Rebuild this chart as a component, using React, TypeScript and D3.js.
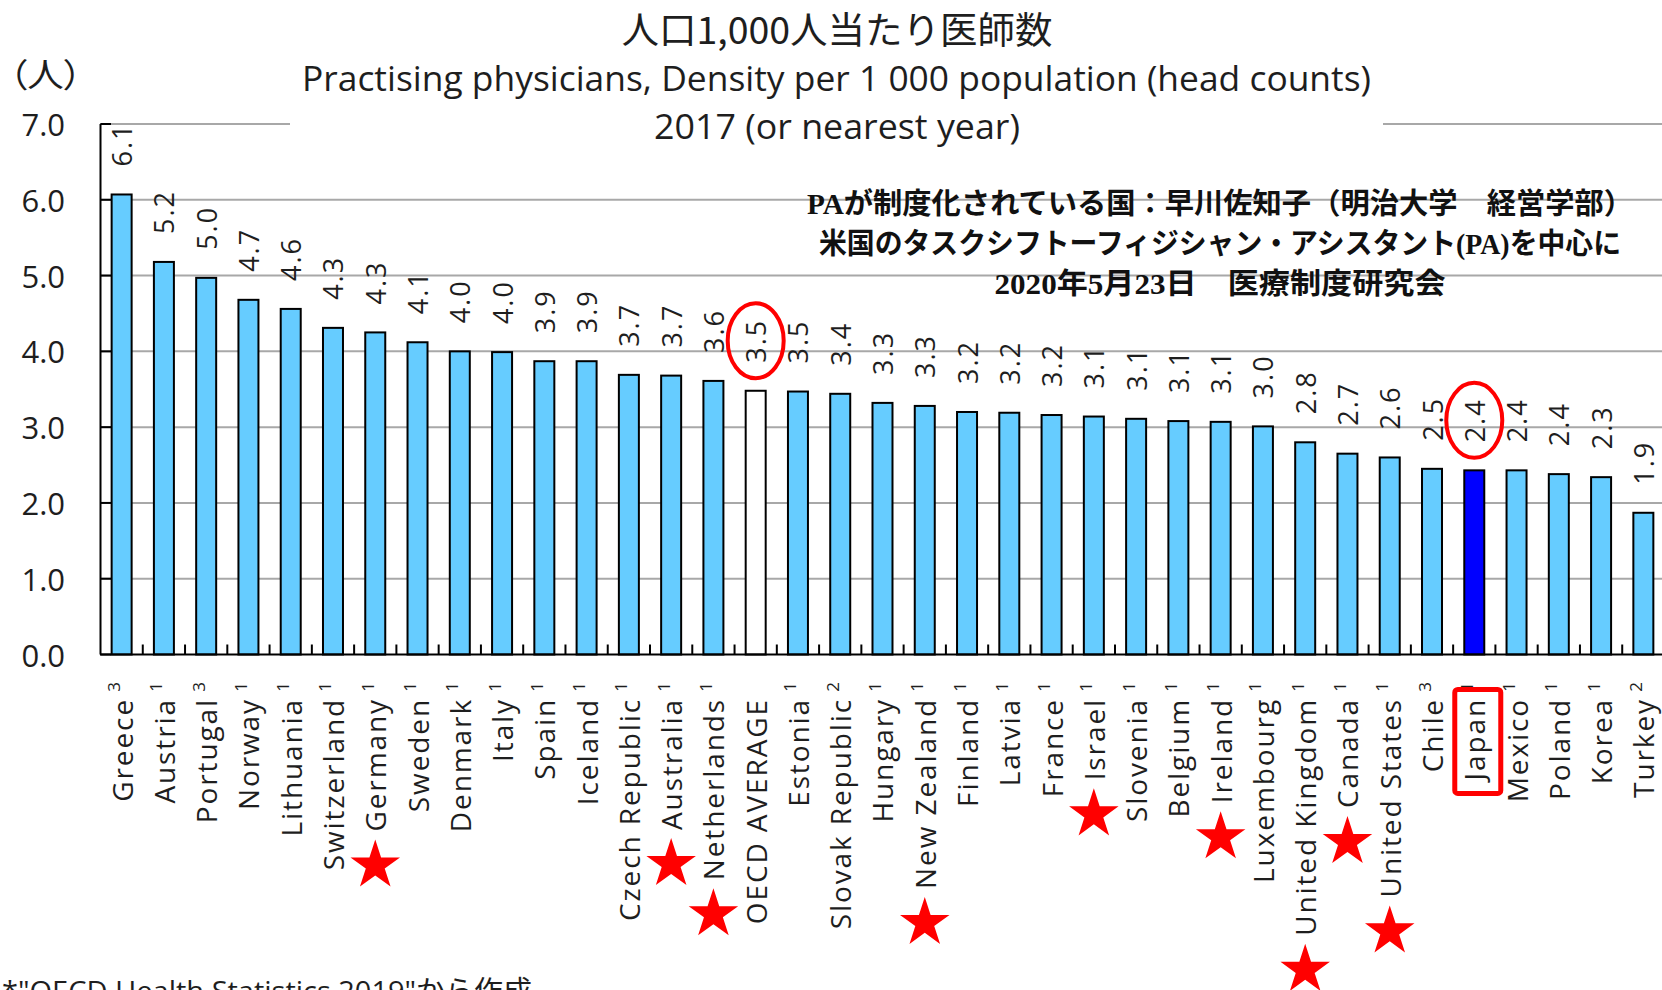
import React, { useEffect, useRef } from 'react';
import * as d3 from 'd3';

const countries = [
  'Greece', 'Austria', 'Portugal', 'Norway', 'Lithuania', 'Switzerland', 'Germany', 'Sweden',
  'Denmark', 'Italy', 'Spain', 'Iceland', 'Czech Republic', 'Australia', 'Netherlands',
  'OECD AVERAGE', 'Estonia', 'Slovak Republic', 'Hungary', 'New Zealand', 'Finland', 'Latvia',
  'France', 'Israel', 'Slovenia', 'Belgium', 'Ireland', 'Luxembourg', 'United Kingdom', 'Canada',
  'United States', 'Chile', 'Japan', 'Mexico', 'Poland', 'Korea', 'Turkey',
];
const superscripts = [
  '3', '1', '3', '1', '1', '1', '1', '1', '1', '1', '1', '1', '1', '1', '1', '', '1', '2', '1',
  '1', '1', '1', '1', '1', '1', '1', '1', '1', '1', '1', '1', '3', '1', '1', '1', '1', '2',
];
const values = [
  6.07, 5.18, 4.97, 4.68, 4.56, 4.31, 4.25, 4.12, 4.0, 3.99, 3.87, 3.87, 3.69, 3.68, 3.61, 3.48,
  3.47, 3.44, 3.32, 3.28, 3.2, 3.19, 3.16, 3.14, 3.11, 3.08, 3.07, 3.01, 2.8, 2.65, 2.6, 2.45,
  2.43, 2.43, 2.38, 2.34, 1.87,
];
const valueLabels = [
  '6.1', '5.2', '5.0', '4.7', '4.6', '4.3', '4.3', '4.1', '4.0', '4.0', '3.9', '3.9', '3.7', '3.7',
  '3.6', '3.5', '3.5', '3.4', '3.3', '3.3', '3.2', '3.2', '3.2', '3.1', '3.1', '3.1', '3.1', '3.0',
  '2.8', '2.7', '2.6', '2.5', '2.4', '2.4', '2.4', '2.3', '1.9',
];
const starred = ['Germany', 'Australia', 'Netherlands', 'New Zealand', 'Israel', 'Ireland', 'United Kingdom', 'Canada', 'United States'];
const circledValues = ['OECD AVERAGE', 'Japan'];
const boxedLabel = 'Japan';
const averageName = 'OECD AVERAGE';
const yTicks = [0, 1, 2, 3, 4, 5, 6, 7];
const yTickLabels = ['0.0', '1.0', '2.0', '3.0', '4.0', '5.0', '6.0', '7.0'];
const titleJa = '人口1,000人当たり医師数';
const subtitle1 = 'Practising physicians, Density per 1 000 population (head counts)';
const subtitle2 = '2017 (or nearest year)';
const unitLabel = '（人）';
const noteLines = [
  'PAが制度化されている国：早川佐知子（明治大学　経営学部）',
  '米国のタスクシフトーフィジシャン・アシスタント(PA)を中心に',
  '2020年5月23日　医療制度研究会',
];
const sourceNote = '*"OECD Health Statistics 2019"から作成';

const W = 1662;
const H = 990;

export default function App() {
  const ref = useRef<SVGSVGElement>(null);

  useEffect(() => {
    document.body.style.margin = '0';
    const draw = () => {
      const svg = d3.select(ref.current);
      svg.selectAll('*').remove();
      const font = "'Open Sans', 'Noto Sans', sans-serif";
      const cjk = "'Noto Sans CJK JP', 'Noto Sans', sans-serif";
      const ink = '#1e1e1e';

      const x = d3.scaleBand<string>().domain(countries).range([100.5, 100.5 + countries.length * 42.27]);
      const y = d3.scaleLinear().domain([0, 7]).range([654.5, 124]);
      const barW = 20;
      const cx = (c: string) => (x(c) as number) + x.bandwidth() / 2;

      svg.append('rect').attr('width', W).attr('height', H).attr('fill', '#fff');

      // gridlines
      svg.append('g').selectAll('line').data(yTicks.filter((d) => d > 0)).join('line')
        .attr('x1', 100).attr('x2', W).attr('y1', (d) => y(d)).attr('y2', (d) => y(d))
        .attr('stroke', '#a8a8a8').attr('stroke-width', 2);

      // title background
      svg.append('rect').attr('x', 290).attr('y', 0).attr('width', 1383 - 290).attr('height', 145).attr('fill', '#fff');

      // titles
      svg.append('text').text(titleJa).attr('x', 837).attr('y', 28).attr('text-anchor', 'middle')
        .attr('dominant-baseline', 'central').attr('font-family', cjk).attr('font-size', 37)
        .attr('textLength', 431).attr('lengthAdjust', 'spacingAndGlyphs').attr('fill', ink);
      svg.append('text').text(subtitle1).attr('x', 836.5).attr('y', 91).attr('text-anchor', 'middle')
        .attr('font-family', font).attr('font-size', 35)
        .attr('textLength', 1069).attr('lengthAdjust', 'spacingAndGlyphs').attr('fill', ink);
      svg.append('text').text(subtitle2).attr('x', 837).attr('y', 139).attr('text-anchor', 'middle')
        .attr('font-family', font).attr('font-size', 35)
        .attr('textLength', 366).attr('lengthAdjust', 'spacingAndGlyphs').attr('fill', ink);
      svg.append('text').text(unitLabel).attr('x', 9).attr('y', 73)
        .attr('dominant-baseline', 'central').attr('font-family', cjk).attr('font-size', 33)
        .style('font-feature-settings', "'palt'")
        .attr('textLength', 73).attr('lengthAdjust', 'spacingAndGlyphs').attr('fill', ink);

      // annotation note
      const noteLen = [826, 802, 451];
      const noteY = [204, 244, 283.5];
      svg.append('g').selectAll('text').data(noteLines).join('text')
        .text((d) => d).attr('x', 1220).attr('y', (_, i) => noteY[i]).attr('text-anchor', 'middle')
        .attr('dominant-baseline', 'central')
        .attr('font-family', "'Liberation Serif', 'Noto Sans CJK JP', serif").attr('font-weight', 700)
        .attr('font-size', 29).attr('textLength', (_, i) => noteLen[i]).attr('lengthAdjust', 'spacingAndGlyphs')
        .attr('fill', '#111');

      // y axis
      svg.append('line').attr('x1', 100.5).attr('x2', 100.5).attr('y1', y(0)).attr('y2', y(7))
        .attr('stroke', '#000').attr('stroke-width', 2);
      svg.append('g').selectAll('line').data(yTicks).join('line')
        .attr('x1', 100.5).attr('x2', 111).attr('y1', (d) => y(d)).attr('y2', (d) => y(d))
        .attr('stroke', '#000').attr('stroke-width', 2);
      svg.append('g').selectAll('text').data(yTicks).join('text')
        .text((_, i) => yTickLabels[i]).attr('x', 65).attr('y', (d) => y(d))
        .attr('text-anchor', 'end').attr('dominant-baseline', 'central')
        .attr('font-family', font).attr('font-size', 31).attr('fill', ink);

      // bars
      svg.append('g').selectAll('rect').data(countries).join('rect')
        .attr('x', (c) => cx(c) - barW / 2).attr('width', barW)
        .attr('y', (_, i) => y(values[i])).attr('height', (_, i) => y(0) - y(values[i]))
        .attr('fill', (c) => (c === 'Japan' ? '#0000ff' : c === averageName ? '#ffffff' : '#66ccff'))
        .attr('stroke', '#000').attr('stroke-width', 2);

      // x axis
      svg.append('line').attr('x1', 100).attr('x2', W).attr('y1', y(0)).attr('y2', y(0))
        .attr('stroke', '#000').attr('stroke-width', 2);
      svg.append('g').selectAll('line').data(countries.slice(1)).join('line')
        .attr('x1', (c) => x(c) as number).attr('x2', (c) => x(c) as number)
        .attr('y1', y(0) - 10).attr('y2', y(0)).attr('stroke', '#000').attr('stroke-width', 2);

      // value labels
      const valueLen: Record<string, number> = {};
      countries.forEach((c, i) => {
        const g = svg.append('g').attr('transform', `translate(${cx(c)},${y(values[i]) - 28}) rotate(-90)`);
        const t = g.append('text').text(valueLabels[i]).attr('x', 0).attr('y', 0)
          .attr('dominant-baseline', 'central').attr('font-family', font).attr('font-size', 27)
          .attr('letter-spacing', 2).attr('fill', ink);
        valueLen[c] = (t.node() as SVGTextElement).getComputedTextLength();
      });

      // category labels
      const labelEnd: Record<string, number> = {};
      countries.forEach((c, i) => {
        const g = svg.append('g').attr('transform', `translate(${cx(c)},${y(0)}) rotate(-90)`);
        const t = g.append('text').text(c).attr('x', -43.5).attr('y', 0).attr('text-anchor', 'end')
          .attr('dominant-baseline', 'central').attr('font-family', font).attr('font-size', 28)
          .attr('letter-spacing', 1.9).attr('fill', ink);
        const len = (t.node() as SVGTextElement).getComputedTextLength();
        labelEnd[c] = y(0) + 43.5 + len;
        if (superscripts[i]) {
          g.append('text').text(superscripts[i]).attr('x', -27.5).attr('y', -8).attr('text-anchor', 'end')
            .attr('dominant-baseline', 'central').attr('font-family', font).attr('font-size', 17)
            .attr('fill', ink);
        }
      });

      // red annotations
      const star = d3.symbol().type(d3.symbolStar).size(760);
      svg.append('g').selectAll('path').data(starred).join('path')
        .attr('d', star() as string)
        .attr('transform', (c) => `translate(${cx(c)},${labelEnd[c] + 34})`)
        .attr('fill', '#ff0000');

      svg.append('g').selectAll('ellipse').data(circledValues).join('ellipse')
        .attr('cx', (c) => cx(c))
        .attr('cy', (c) => y(values[countries.indexOf(c)]) - 28 - valueLen[c] / 2)
        .attr('rx', 28).attr('ry', 37.5)
        .attr('fill', 'none').attr('stroke', '#ff0000').attr('stroke-width', 4);

      svg.append('rect')
        .attr('x', cx(boxedLabel) - 19.5).attr('width', 46)
        .attr('y', 689.5).attr('height', labelEnd[boxedLabel] + 13 - 689.5)
        .attr('rx', 3).attr('fill', 'none').attr('stroke', '#ff0000').attr('stroke-width', 5);

      // source note (cut off at the bottom, as in the original)
      svg.append('text').text(sourceNote).attr('x', 2).attr('y', 1001)
        .attr('font-family', "'Open Sans', 'Noto Sans CJK JP', sans-serif").attr('font-size', 28)
        .attr('textLength', 530).attr('lengthAdjust', 'spacingAndGlyphs').attr('fill', ink);
    };
    draw();
    if ((document as any).fonts && (document as any).fonts.ready) {
      (document as any).fonts.ready.then(draw);
    }
  }, []);

  return (
    <svg
      ref={ref}
      width={W}
      height={H}
      viewBox={`0 0 ${W} ${H}`}
      style={{ position: 'absolute', left: 0, top: 0, display: 'block' }}
    />
  );
}
